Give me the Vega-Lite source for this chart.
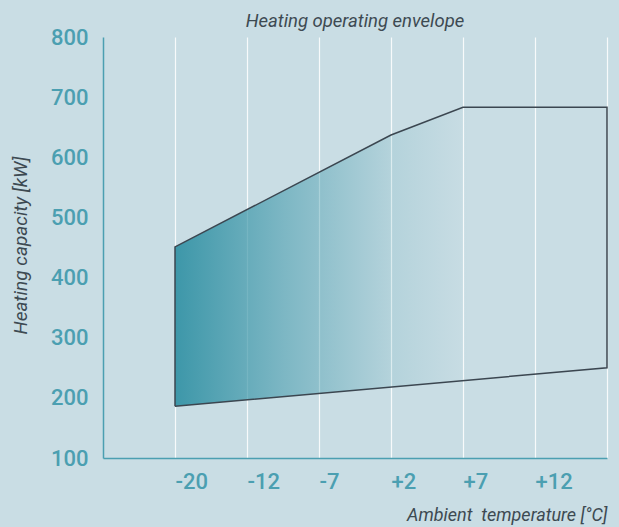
{
  "$schema": "https://vega.github.io/schema/vega-lite/v6.json",
  "width": 504,
  "height": 421,
  "autosize": "none",
  "padding": {"left": 103, "top": 37, "right": 12, "bottom": 69},
  "background": "#c9dde4",
  "title": {
    "text": "Heating operating envelope",
    "font": "Roboto",
    "fontSize": 18.5,
    "fontStyle": "italic",
    "fontWeight": "normal",
    "color": "#3d4a52",
    "anchor": "middle",
    "frame": "group",
    "offset": -4
  },
  "config": {
    "view": {"stroke": null},
    "axis": {"labelFont": "Roboto", "titleFont": "Roboto"}
  },
  "data": {
    "values": [
      {"slot": 1, "temp": "-20", "capacity": 186, "order": 1},
      {"slot": 1, "temp": "-20", "capacity": 451, "order": 2},
      {"slot": 4, "temp": "+2", "capacity": 637, "order": 3},
      {"slot": 5, "temp": "+7", "capacity": 683, "order": 4},
      {"slot": 7, "temp": "max", "capacity": 683, "order": 5},
      {"slot": 7, "temp": "max", "capacity": 250, "order": 6},
      {"slot": 1, "temp": "-20", "capacity": 186, "order": 7}
    ]
  },
  "mark": {
    "type": "line",
    "stroke": "#3b4650",
    "strokeWidth": 1.5,
    "strokeJoin": "miter",
    "fill": {
      "gradient": "linear",
      "x1": 0, "y1": 0, "x2": 1, "y2": 0,
      "stops": [
        {"offset": 0, "color": "rgba(61,151,169,1)"},
        {"offset": 0.25, "color": "rgba(61,151,169,0.55)"},
        {"offset": 0.5, "color": "rgba(61,151,169,0.15)"},
        {"offset": 0.68, "color": "rgba(61,151,169,0)"},
        {"offset": 1, "color": "rgba(61,151,169,0)"}
      ]
    }
  },
  "encoding": {
    "x": {
      "field": "slot",
      "type": "quantitative",
      "scale": {"domain": [0, 7], "nice": false, "zero": false},
      "axis": {
        "values": [1, 2, 3, 4, 5, 6, 7],
        "labelExpr": "['', '-20', '-12', '-7', '+2', '+7', '+12', ''][datum.value]",
        "title": "Ambient\u00a0 temperature [°C]",
        "titleFontSize": 18,
        "titleFontStyle": "italic",
        "titleFontWeight": "normal",
        "titleColor": "#3d4a52",
        "titleAlign": "right",
        "titleAnchor": "end",
        "titleBaseline": "middle",
        "titleX": 504,
        "titleY": 57,
        "labelAlign": "left",
        "labelBaseline": "middle",
        "labelPadding": 23,
        "labelFontSize": 22,
        "labelFontWeight": 500,
        "labelColor": "#4b9fb1",
        "ticks": false,
        "domainColor": "#4b9fb1",
        "domainWidth": 1.5,
        "grid": true,
        "gridColor": "#ffffff",
        "gridOpacity": 0.85,
        "gridWidth": 1.2
      }
    },
    "y": {
      "field": "capacity",
      "type": "quantitative",
      "scale": {"domain": [100, 800], "nice": false, "zero": false},
      "axis": {
        "values": [100, 200, 300, 400, 500, 600, 700, 800],
        "title": "Heating capacity [kW]",
        "titleFontSize": 19,
        "titleFontStyle": "italic",
        "titleFontWeight": "normal",
        "titleColor": "#3d4a52",
        "titleAngle": -90,
        "titleAlign": "center",
        "titleBaseline": "middle",
        "titleX": -83,
        "titleY": 208,
        "labelAlign": "right",
        "labelBaseline": "middle",
        "labelPadding": 15,
        "labelFontSize": 22,
        "labelFontWeight": 500,
        "labelColor": "#4b9fb1",
        "ticks": false,
        "domainColor": "#4b9fb1",
        "domainWidth": 1.5,
        "grid": false
      }
    },
    "order": {"field": "order", "type": "quantitative"}
  }
}
